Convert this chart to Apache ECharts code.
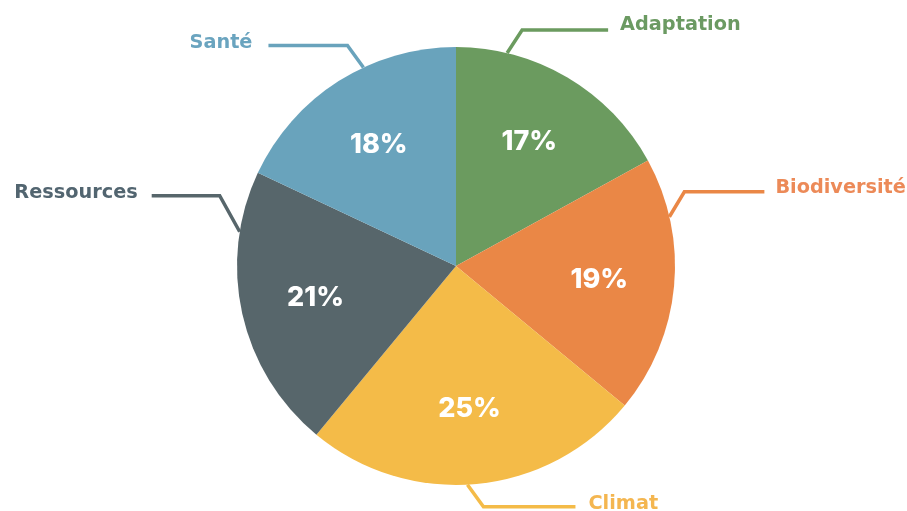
<!DOCTYPE html>
<html><head><meta charset="utf-8">
<script src="https://cdn.jsdelivr.net/npm/echarts@6/dist/echarts.min.js"></script>
<style>html,body{margin:0;padding:0;background:#fff}#c{width:907px;height:511px}</style>
</head><body><div id="c"></div>
<script>
// ---- data ----
const categories = ['Adaptation', 'Biodiversité', 'Climat', 'Ressources', 'Santé'];
const shares = [17, 19, 25, 21, 18];

// ---- styles ----
const sliceColors = ['#6b9b5f', '#ea8746', '#f4bb48', '#57666b', '#69a3bc'];
const labelColors = ['#6b9a62', '#ec8a58', '#f4b650', '#526570', '#6aa4bf'];

// ---- layout ----
const CX = 456, CY = 266, R = 219;
const leaderAngle = [13.5, 77, 177, 279, 335];
const elbowRun = [15, 15, 16, -20, -16];
const elbowRise = [-23, -25, 22, -36, -22];
const runLen = [86, 80, 92, 68, 79];
const textGap = [12, 11, 13, 14, 16];
const textLift = [-5, -4, -3, -3, -3];

const pieData = categories.map((name, i) => ({
  name: name,
  value: shares[i],
  itemStyle: { color: sliceColors[i] },
  label: { color: labelColors[i] }
}));

const chart = echarts.init(document.getElementById('c'));
chart.setOption({
  animation: false,
  backgroundColor: '#ffffff',
  series: [
    {
      type: 'pie',
      center: [CX, CY],
      radius: R,
      startAngle: 90,
      clockwise: true,
      avoidLabelOverlap: false,
      silent: true,
      data: pieData,
      label: {
        show: true,
        position: 'outside',
        formatter: '{b}',
        fontFamily: 'DejaVu Sans',
        fontWeight: 'bold',
        fontSize: 19.3,
        overflow: 'none'
      },
      labelLine: { show: true, length: 15, length2: 15, lineStyle: { width: 3.5 } },
      labelLayout: function (p) {
        const i = p.dataIndex;
        const a = leaderAngle[i] * Math.PI / 180;
        const x1 = CX + R * Math.sin(a), y1 = CY - R * Math.cos(a);
        const x2 = x1 + elbowRun[i], y2 = y1 + elbowRise[i];
        const dir = elbowRun[i] < 0 ? -1 : 1;
        const x3 = x2 + dir * runLen[i];
        return {
          x: x3 + dir * textGap[i],
          y: y2 + textLift[i],
          align: dir < 0 ? 'right' : 'left',
          verticalAlign: 'middle',
          labelLinePoints: [[x1, y1], [x2, y2], [x3, y2]]
        };
      }
    },
    {
      type: 'pie',
      center: [CX, CY],
      radius: [0, 282],
      startAngle: 90,
      clockwise: true,
      silent: true,
      data: categories.map((name, i) => ({ name: name, value: shares[i] })),
      itemStyle: { color: 'rgba(0,0,0,0)' },
      label: {
        show: true,
        position: 'inside',
        formatter: '{c}%',
        color: '#ffffff',
        fontFamily: 'Inter',
        fontWeight: 800,
        fontSize: 27
      },
      labelLine: { show: false }
    }
  ]
});
</script>
</body></html>
